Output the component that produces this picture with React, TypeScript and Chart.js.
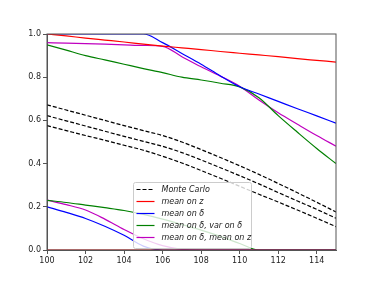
import React, { useEffect, useRef } from "react";
import { Chart, registerables } from "chart.js";

Chart.register(...registerables);

const xValues = [100, 101, 102, 103, 104, 105, 106, 107, 108, 109, 110, 111, 112, 113, 114, 115];
const xTicks = [100, 102, 104, 106, 108, 110, 112, 114];
const yTicks = [0, 0.2, 0.4, 0.6, 0.8, 1.0];

const monteCarloTop = [0.672, 0.648, 0.624, 0.6, 0.576, 0.553, 0.53, 0.5, 0.465, 0.428, 0.39, 0.35, 0.308, 0.265, 0.221, 0.176];
const monteCarloMid = [0.622, 0.598, 0.574, 0.55, 0.526, 0.503, 0.48, 0.451, 0.417, 0.381, 0.344, 0.306, 0.266, 0.227, 0.188, 0.147];
const monteCarloLow = [0.576, 0.553, 0.53, 0.508, 0.485, 0.462, 0.434, 0.403, 0.368, 0.332, 0.295, 0.258, 0.222, 0.185, 0.147, 0.108];

const meanZUpper = [1.0, 0.991, 0.981, 0.972, 0.963, 0.953, 0.944, 0.936, 0.928, 0.919, 0.911, 0.903, 0.895, 0.886, 0.878, 0.87];
const meanZLower = [0, 0, 0, 0, 0, 0, 0, 0, 0, 0, 0, 0, 0, 0, 0, 0];

const meanDUpper = [1.0, 1.0, 1.0, 1.0, 1.0, 1.0, 0.96, 0.91, 0.86, 0.806, 0.756, 0.722, 0.688, 0.654, 0.621, 0.587];
const meanDLower = [0.2, 0.174, 0.146, 0.11, 0.068, 0.018, 0, 0, 0, 0, 0, 0, 0, 0, 0, 0];

const meanDVarDUpper = [0.95, 0.925, 0.9, 0.88, 0.86, 0.84, 0.821, 0.8, 0.787, 0.772, 0.755, 0.705, 0.622, 0.545, 0.47, 0.4];
const meanDVarDLower = [0.23, 0.22, 0.208, 0.196, 0.183, 0.165, 0.143, 0.118, 0.092, 0.063, 0.03, 0, 0, 0, 0, 0];

const meanDMeanZUpper = [0.96, 0.958, 0.955, 0.953, 0.95, 0.947, 0.943, 0.895, 0.848, 0.805, 0.758, 0.694, 0.635, 0.582, 0.53, 0.481];
const meanDMeanZLower = [0.231, 0.21, 0.185, 0.143, 0.095, 0.052, 0.02, 0.003, 0, 0, 0, 0, 0, 0, 0, 0];

const legendLabels = ["Monte Carlo", "mean on z", "mean on δ", "mean on δ, var on δ", "mean on δ, mean on z"];
const legendColors = ["#000000", "#ff0000", "#0000ff", "#008000", "#bf00bf"];
const legendDashed = [true, false, false, false, false];

const toPoints = (ys: number[]) => xValues.map((x, i) => ({ x, y: ys[i] }));

const FONT = "'DejaVu Sans', sans-serif";

const frameAndLegend = {
  id: "frameAndLegend",
  afterDatasetsDraw(chart: any) {
    const { ctx, chartArea } = chart;
    const { left, right, top, bottom } = chartArea;
    ctx.save();
    ctx.strokeStyle = "#555555";
    ctx.lineWidth = 1;
    ctx.strokeRect(left, top, right - left, bottom - top);

    const rowH = 12;
    const w = 118;
    const h = rowH * legendLabels.length + 6;
    const lx = Math.round((left + right) / 2 - w / 2) + 0.5;
    const ly = Math.round(bottom - 2 - h) + 0.5;
    ctx.beginPath();
    (ctx as any).roundRect(lx, ly, w, h, 2);
    ctx.fillStyle = "rgba(255,255,255,0.8)";
    ctx.fill();
    ctx.strokeStyle = "#cccccc";
    ctx.lineWidth = 1;
    ctx.stroke();

    ctx.font = `italic 8px ${FONT}`;
    ctx.textBaseline = "middle";
    ctx.textAlign = "left";
    legendLabels.forEach((label, i) => {
      const cy = ly + 7 + i * rowH;
      ctx.beginPath();
      ctx.strokeStyle = legendColors[i];
      ctx.lineWidth = 1.2;
      ctx.setLineDash(legendDashed[i] ? [4, 2] : []);
      ctx.moveTo(lx + 3, cy);
      ctx.lineTo(lx + 21, cy);
      ctx.stroke();
      ctx.setLineDash([]);
      ctx.fillStyle = "#222222";
      ctx.fillText(label, lx + 28, cy);
    });
    ctx.restore();
  },
};

export default function App() {
  const ref = useRef<HTMLCanvasElement | null>(null);

  useEffect(() => {
    if (!ref.current) return;
    const line = (data: number[], color: string, dashed = false) => ({
      data: toPoints(data),
      borderColor: color,
      backgroundColor: color,
      borderWidth: 1.2,
      borderDash: dashed ? [4, 2] : [],
      pointRadius: 0,
      fill: false,
      cubicInterpolationMode: "monotone" as const,
    });
    const chart = new Chart(ref.current, {
      type: "line",
      data: {
        datasets: [
          line(monteCarloTop, "#000000", true),
          line(monteCarloMid, "#000000", true),
          line(monteCarloLow, "#000000", true),
          line(meanZUpper, "#ff0000"),
          line(meanZLower, "#ff0000"),
          line(meanDUpper, "#0000ff"),
          line(meanDLower, "#0000ff"),
          line(meanDVarDUpper, "#008000"),
          line(meanDVarDLower, "#008000"),
          line(meanDMeanZUpper, "#bf00bf"),
          line(meanDMeanZLower, "#bf00bf"),
        ],
      },
      options: {
        responsive: false,
        animation: false,
        layout: { padding: { left: 0, right: 38, top: 34, bottom: 0 } },
        plugins: { legend: { display: false }, tooltip: { enabled: false } },
        scales: {
          x: {
            type: "linear",
            min: 100,
            max: 115,
            afterFit: (s: any) => { s.height = 31; },
            afterBuildTicks: (s: any) => { s.ticks = xTicks.map((v) => ({ value: v })); },
            grid: { display: true, drawOnChartArea: false, drawTicks: true, tickLength: 4, color: "#555555" },
            border: { display: true, color: "#555555", width: 1 },
            ticks: { font: { family: FONT, size: 8 }, color: "#222222", padding: 2, maxRotation: 0, callback: (v: any) => String(v) },
          },
          y: {
            type: "linear",
            min: 0,
            max: 1,
            afterFit: (s: any) => { s.width = 47; },
            afterBuildTicks: (s: any) => { s.ticks = yTicks.map((v) => ({ value: v })); },
            grid: { display: true, drawOnChartArea: false, drawTicks: true, tickLength: 4, color: "#555555" },
            border: { display: true, color: "#555555", width: 1 },
            ticks: { font: { family: FONT, size: 8 }, color: "#222222", padding: 2, callback: (v: any) => Number(v).toFixed(1) },
          },
        },
      },
      plugins: [frameAndLegend],
    });
    return () => chart.destroy();
  }, []);

  return (
    <div style={{ position: "absolute", left: 0, top: 0, width: 374, height: 281, background: "#fff" }}>
      <canvas ref={ref} width={374} height={281} />
    </div>
  );
}
